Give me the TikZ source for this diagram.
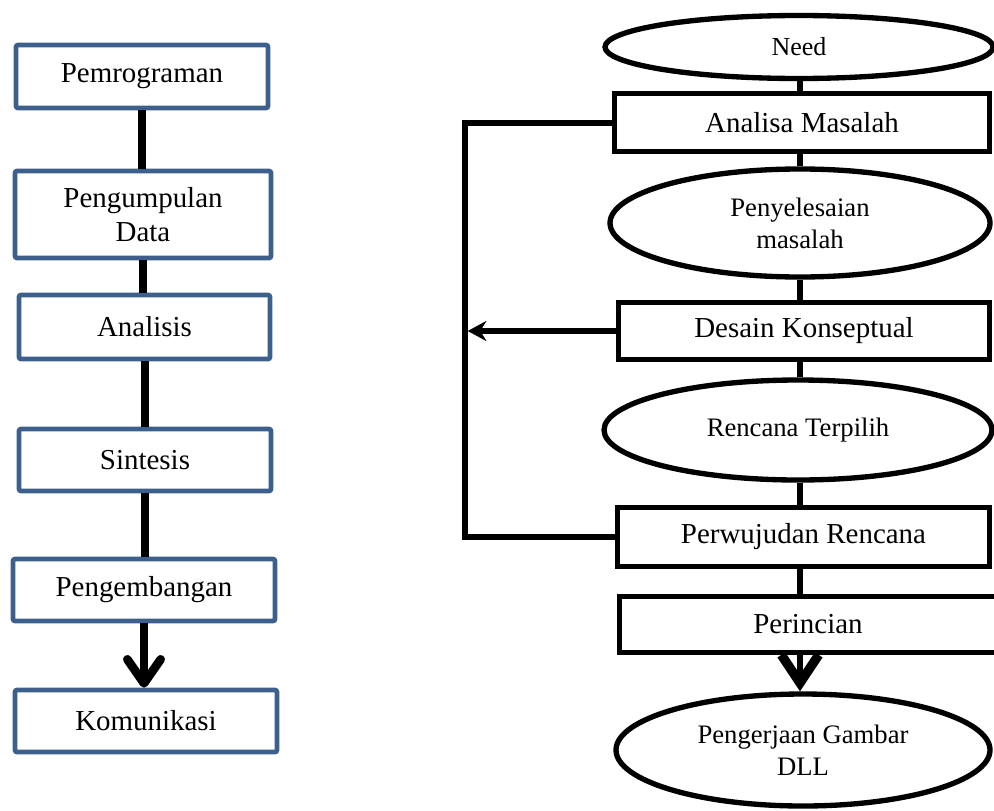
\documentclass[tikz,border=0pt]{standalone}
\usepackage{fontspec}
\setmainfont{Liberation Serif}
\usetikzlibrary{shapes.geometric,arrows.meta}
\definecolor{boxblue}{HTML}{3C5F8C}
\tikzset{
  lbox/.style={draw=boxblue, line width=3.5pt, rounded corners=1.5pt, fill=white,
    inner sep=0pt, align=center, font=\fontsize{21.7}{25}\selectfont},
  rbox/.style={draw=black, line width=3.75pt, fill=white, inner sep=0pt,
    align=center, font=\fontsize{21.7}{25}\selectfont},
  rell/.style={ellipse, draw=black, line width=4pt, fill=white, inner sep=0pt,
    align=center, font=\fontsize{20}{24}\selectfont},
  lconn/.style={draw=black, line width=6pt},
  rconn/.style={draw=black, line width=5pt},
  fb/.style={draw=black, line width=4.5pt, line join=miter},
}
\begin{document}
\begin{tikzpicture}[x=0.75pt,y=-0.75pt]
\useasboundingbox (0,0) rectangle (994,810);
\coordinate (spine) at (800,0);
\coordinate (fbx) at (465,0);
% left column
\node[lbox, minimum width=189pt, minimum height=47.25pt] (pem) at (142,76.5) {Pemrograman};
\node[lbox, minimum width=192pt, minimum height=65.25pt] (pgd) at (143,214.5) {Pengumpulan\\Data};
\node[lbox, minimum width=188.25pt, minimum height=48pt] (ans) at (144.5,327) {Analisis};
\node[lbox, minimum width=189pt, minimum height=46.5pt] (sin) at (145,460) {Sintesis};
\node[lbox, minimum width=196.5pt, minimum height=46.5pt] (pgb) at (144,590) {Pengembangan};
\node[lbox, minimum width=196.5pt, minimum height=46.5pt] (kom) at (146,721) {Komunikasi};
\draw[lconn] (pem.south) -- (pem.south |- pgd.north);
\draw[lconn] (pgd.south) -- (pgd.south |- ans.north);
\draw[lconn] (ans.south) -- (ans.south |- sin.north);
\draw[lconn] (sin.south) -- (sin.south |- pgb.north);
\draw[lconn, -{Straight Barb[length=18pt,width=25pt,round,line width=6.5pt]}] (pgb.south) -- (pgb.south |- kom.north);
% right column
\node[rell, minimum width=291pt, minimum height=47.25pt, font=\fontsize{19.5}{23}\selectfont] (need) at (799,47) {Need};
\node[rbox, minimum width=281.25pt, minimum height=43.5pt] (ana) at (802,122.5) {Analisa Masalah};
\node[rell, minimum width=285pt, minimum height=81pt] (pny) at (800,223) {Penyelesaian\\masalah};
\node[rbox, minimum width=278.25pt, minimum height=42.75pt] (des) at (804,331) {Desain Konseptual};
\node[rell, minimum width=291pt, minimum height=75pt] (ren) at (798,430) {Rencana Terpilih};
\node[rbox, minimum width=279pt, minimum height=44.25pt] (pwr) at (803.5,537) {Perwujudan Rencana};
\node[rbox, minimum width=282.75pt, minimum height=42pt] (pri) at (808,624.5) {Perincian};
\node[rell, minimum width=280.5pt, minimum height=84pt] (pgg) at (803,750) {Pengerjaan Gambar\\DLL};
\draw[rconn] (need.south -| spine) -- (ana.north -| spine);
\draw[rconn] (ana.south -| spine) -- (pny.north -| spine);
\draw[rconn] (pny.south -| spine) -- (des.north -| spine);
\draw[rconn] (des.south -| spine) -- (ren.north -| spine);
\draw[rconn] (ren.south -| spine) -- (pwr.north -| spine);
\draw[rconn] (pwr.south -| spine) -- (pri.north -| spine);
\draw[rconn, -{Straight Barb[length=21pt,width=28pt,line width=7pt]}] (pri.south -| spine) -- (pgg.north -| spine);
% feedback
\draw[fb] (ana.west) -- (ana.west -| fbx) -- (pwr.west -| fbx) -- (pwr.west);
\draw[fb, -{Stealth[length=14pt,width=15pt]}, shorten >=2pt] (des.west) -- (des.west -| fbx);
\end{tikzpicture}
\end{document}
